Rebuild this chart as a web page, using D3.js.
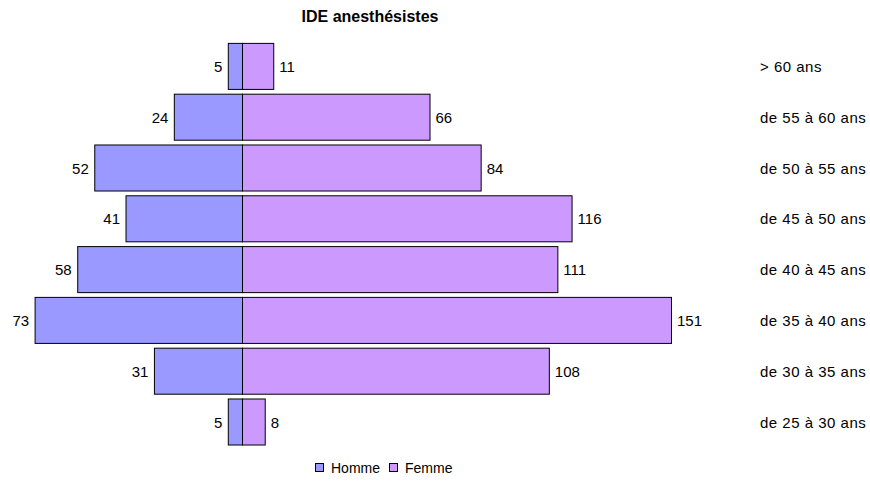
<!DOCTYPE html>
<html>
<head>
<meta charset="utf-8">
<script src="https://cdn.jsdelivr.net/npm/d3@7"></script>
<style>
  body { margin: 0; background: #fff; }
  svg { font-family: "Liberation Sans", Arial, sans-serif; }
</style>
</head>
<body>
<div id="chart"></div>
<script>
// Tranches d'âge (du haut vers le bas)
const ages = ["> 60 ans", "de 55 à 60 ans", "de 50 à 55 ans", "de 45 à 50 ans",
              "de 40 à 45 ans", "de 35 à 40 ans", "de 30 à 35 ans", "de 25 à 30 ans"];
const homme = [5, 24, 52, 41, 58, 73, 31, 5];
const femme = [11, 66, 84, 116, 111, 151, 108, 8];
const series = ["Homme", "Femme"];

const width = 870, height = 481;
const cx = 242.5;               // axe central
const colors = { Homme: "#9999ff", Femme: "#cc99ff" };

const svg = d3.select("#chart").append("svg")
    .attr("width", width).attr("height", height);

// Echelles
const xScale = d3.scaleLinear().domain([0, 151]).range([0, 429]);
const yScale = d3.scaleBand().domain(ages).range([41, 41 + 50.8 * ages.length])
    .paddingInner(0.094).paddingOuter(0.047);

// Titre
svg.append("text").attr("x", 370).attr("y", 21.5)
    .attr("text-anchor", "middle").style("font-size", "16px").style("font-weight", "bold")
    .text("IDE anesthésistes");

const rows = svg.selectAll("g.row").data(ages).enter().append("g").attr("class", "row");

// Barres hommes (à gauche)
rows.append("rect")
    .attr("x", (d, i) => cx - xScale(homme[i]))
    .attr("y", d => yScale(d))
    .attr("width", (d, i) => xScale(homme[i]))
    .attr("height", yScale.bandwidth())
    .attr("fill", colors.Homme).attr("stroke", "#000").attr("stroke-width", 1);

// Barres femmes (à droite)
rows.append("rect")
    .attr("x", cx)
    .attr("y", d => yScale(d))
    .attr("width", (d, i) => xScale(femme[i]))
    .attr("height", yScale.bandwidth())
    .attr("fill", colors.Femme).attr("stroke", "#000").attr("stroke-width", 1);

// Etiquettes de valeurs
const mid = d => yScale(d) + yScale.bandwidth() / 2 + 5.5;
rows.append("text")
    .attr("x", (d, i) => cx - xScale(homme[i]) - 6)
    .attr("y", mid)
    .attr("text-anchor", "end").style("font-size", "15px")
    .text((d, i) => homme[i]);

rows.append("text")
    .attr("x", (d, i) => cx + xScale(femme[i]) + 5.5)
    .attr("y", mid)
    .style("font-size", "15px")
    .text((d, i) => femme[i]);

// Libellés des tranches d'âge
rows.append("text")
    .attr("x", 760)
    .attr("y", mid)
    .style("font-size", "15px").style("letter-spacing", "0.5px")
    .text(d => d);

// Légende
const legendX = [315, 389];
series.forEach((s, i) => {
    const g = svg.append("g").attr("transform", `translate(${legendX[i]}, 463)`);
    g.append("rect").attr("x", 0.5).attr("y", 0.5).attr("width", 8).attr("height", 8)
        .attr("fill", colors[s]).attr("stroke", "#000").attr("stroke-width", 1);
    g.append("text").attr("x", 16).attr("y", 9.5).style("font-size", "14px")
        .text(s);
});
</script>
</body>
</html>
